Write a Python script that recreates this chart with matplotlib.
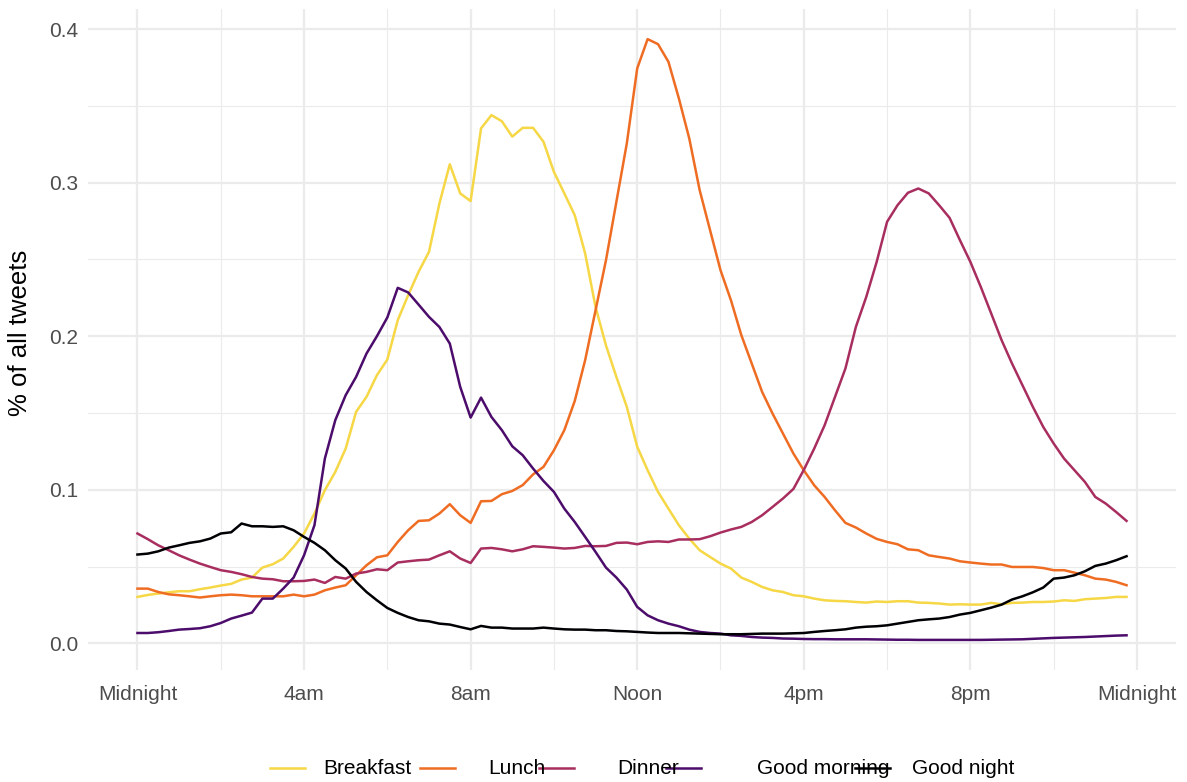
import numpy as np
import matplotlib
matplotlib.use("Agg")
import matplotlib.pyplot as plt
from matplotlib import cm
from matplotlib.lines import Line2D

# time of day in hours (15-minute bins)
hours = np.arange(96) / 4

breakfast = [0.0302, 0.0315, 0.0324, 0.0332, 0.0339, 0.0339, 0.0352, 0.0363, 0.0376, 0.0387,
             0.0415, 0.0428, 0.0493, 0.0515, 0.0552, 0.0628, 0.0715, 0.0845, 0.0997, 0.1116,
             0.1268, 0.1507, 0.1605, 0.1746, 0.1848, 0.2104, 0.2267, 0.2419, 0.2549, 0.2864,
             0.3120, 0.2930, 0.2880, 0.3353, 0.3440, 0.3400, 0.3300, 0.3357, 0.3357, 0.3266,
             0.3070, 0.2930, 0.2788, 0.2539, 0.2190, 0.1940, 0.1735, 0.1540, 0.1280, 0.1127,
             0.0986, 0.0877, 0.0769, 0.0682, 0.0606, 0.0562, 0.0519, 0.0487, 0.0428, 0.0400,
             0.0367, 0.0345, 0.0334, 0.0313, 0.0306, 0.0291, 0.0280, 0.0276, 0.0274, 0.0269,
             0.0265, 0.0272, 0.0269, 0.0274, 0.0274, 0.0265, 0.0263, 0.0259, 0.0252, 0.0254,
             0.0252, 0.0252, 0.0263, 0.0254, 0.0263, 0.0265, 0.0269, 0.0269, 0.0272, 0.0280,
             0.0276, 0.0287, 0.0291, 0.0295, 0.0302, 0.0302]

lunch = [0.0356, 0.0356, 0.0334, 0.0319, 0.0313, 0.0306, 0.0298, 0.0306, 0.0313, 0.0317,
         0.0313, 0.0306, 0.0306, 0.0306, 0.0306, 0.0317, 0.0306, 0.0317, 0.0345, 0.0363,
         0.0378, 0.0443, 0.0508, 0.0560, 0.0573, 0.0660, 0.0736, 0.0797, 0.0801, 0.0845,
         0.0906, 0.0834, 0.0784, 0.0925, 0.0927, 0.0971, 0.0992, 0.1030, 0.1100, 0.1149,
         0.1257, 0.1388, 0.1578, 0.1844, 0.2169, 0.2495, 0.2875, 0.3255, 0.3744, 0.3935,
         0.3902, 0.3787, 0.3549, 0.3288, 0.2951, 0.2690, 0.2430, 0.2235, 0.2007, 0.1822,
         0.1637, 0.1496, 0.1366, 0.1236, 0.1127, 0.1029, 0.0953, 0.0866, 0.0784, 0.0754,
         0.0715, 0.0680, 0.0660, 0.0645, 0.0612, 0.0606, 0.0573, 0.0562, 0.0552, 0.0534,
         0.0526, 0.0519, 0.0513, 0.0513, 0.0497, 0.0497, 0.0497, 0.0490, 0.0476, 0.0476,
         0.0460, 0.0443, 0.0421, 0.0415, 0.0400, 0.0378]

dinner = [0.0715, 0.0678, 0.0638, 0.0606, 0.0573, 0.0545, 0.0519, 0.0497, 0.0476, 0.0465,
          0.0450, 0.0432, 0.0421, 0.0417, 0.0404, 0.0404, 0.0406, 0.0415, 0.0393, 0.0432,
          0.0421, 0.0454, 0.0465, 0.0482, 0.0476, 0.0526, 0.0534, 0.0541, 0.0545, 0.0573,
          0.0599, 0.0552, 0.0523, 0.0617, 0.0621, 0.0612, 0.0599, 0.0612, 0.0632, 0.0628,
          0.0623, 0.0617, 0.0621, 0.0634, 0.0632, 0.0634, 0.0654, 0.0656, 0.0645, 0.0660,
          0.0664, 0.0660, 0.0676, 0.0676, 0.0678, 0.0697, 0.0721, 0.0741, 0.0758, 0.0790,
          0.0834, 0.0888, 0.0943, 0.1005, 0.1129, 0.1268, 0.1420, 0.1605, 0.1790, 0.2060,
          0.2256, 0.2484, 0.2745, 0.2853, 0.2934, 0.2962, 0.2930, 0.2853, 0.2771, 0.2625,
          0.2484, 0.2321, 0.2148, 0.1974, 0.1822, 0.1681, 0.1540, 0.1409, 0.1301, 0.1203,
          0.1127, 0.1051, 0.0953, 0.0910, 0.0855, 0.0797]

good_morning = [0.0067, 0.0067, 0.0072, 0.0080, 0.0089, 0.0093, 0.0098, 0.0111, 0.0132, 0.0161,
                0.0180, 0.0200, 0.0291, 0.0291, 0.0356, 0.0428, 0.0573, 0.0769, 0.1203, 0.1453,
                0.1616, 0.1735, 0.1887, 0.2000, 0.2122, 0.2315, 0.2285, 0.2206, 0.2126, 0.2060,
                0.1952, 0.1670, 0.1470, 0.1600, 0.1474, 0.1388, 0.1283, 0.1225, 0.1138, 0.1057,
                0.0986, 0.0877, 0.0790, 0.0693, 0.0595, 0.0493, 0.0428, 0.0350, 0.0237, 0.0182,
                0.0150, 0.0128, 0.0111, 0.0089, 0.0074, 0.0067, 0.0063, 0.0052, 0.0048, 0.0041,
                0.0037, 0.0035, 0.0031, 0.0030, 0.0028, 0.0027, 0.0027, 0.0026, 0.0026, 0.0026,
                0.0026, 0.0025, 0.0024, 0.0023, 0.0023, 0.0022, 0.0022, 0.0022, 0.0022, 0.0022,
                0.0022, 0.0022, 0.0023, 0.0024, 0.0025, 0.0026, 0.0029, 0.0032, 0.0035, 0.0037,
                0.0039, 0.0041, 0.0044, 0.0047, 0.0050, 0.0052]

good_night = [0.0578, 0.0584, 0.0599, 0.0623, 0.0638, 0.0654, 0.0664, 0.0682, 0.0715, 0.0723,
              0.0780, 0.0762, 0.0762, 0.0758, 0.0762, 0.0736, 0.0693, 0.0654, 0.0606, 0.0541,
              0.0487, 0.0400, 0.0334, 0.0280, 0.0230, 0.0198, 0.0171, 0.0150, 0.0143, 0.0128,
              0.0122, 0.0106, 0.0091, 0.0113, 0.0102, 0.0102, 0.0096, 0.0096, 0.0096, 0.0102,
              0.0096, 0.0091, 0.0089, 0.0089, 0.0085, 0.0085, 0.0080, 0.0078, 0.0074, 0.0070,
              0.0067, 0.0067, 0.0067, 0.0065, 0.0063, 0.0061, 0.0059, 0.0059, 0.0059, 0.0061,
              0.0063, 0.0063, 0.0063, 0.0065, 0.0067, 0.0074, 0.0080, 0.0085, 0.0091, 0.0102,
              0.0108, 0.0111, 0.0117, 0.0128, 0.0139, 0.0150, 0.0156, 0.0161, 0.0171, 0.0187,
              0.0198, 0.0215, 0.0232, 0.0252, 0.0285, 0.0306, 0.0332, 0.0363, 0.0421, 0.0428,
              0.0443, 0.0469, 0.0504, 0.0519, 0.0541, 0.0567]

series_names = ["Breakfast", "Lunch", "Dinner", "Good morning", "Good night"]
series_values = [breakfast, lunch, dinner, good_morning, good_night]

x_ticks = [0, 4, 8, 12, 16, 20, 24]
x_labels = ["Midnight", "4am", "8am", "Noon", "4pm", "8pm", "Midnight"]
x_minor = [2, 6, 10, 14, 18, 22]
y_ticks = [0.0, 0.1, 0.2, 0.3, 0.4]
y_labels = ["0.0", "0.1", "0.2", "0.3", "0.4"]
y_minor = [0.05, 0.15, 0.25, 0.35]

plt.rcParams['font.family'] = ['Liberation Sans', 'DejaVu Sans']

W, H = 1187, 782
fig = plt.figure(figsize=(W / 100, H / 100), dpi=100)
ax = fig.add_axes([88 / W, 112 / H, 1088 / W, 661 / H])

colors = [cm.inferno(v) for v in (0.9, 0.675, 0.45, 0.225, 0.0)]

for name, vals, col in zip(series_names, series_values, colors):
    ax.plot(hours, vals, color=col, lw=1.8, solid_joinstyle='round', zorder=3)

ax.set_xlim(-1.1875, 24.9375)
ax.set_ylim(-0.0174, 0.4131)
ax.set_xticks(x_ticks)
ax.set_xticklabels(x_labels)
ax.set_xticks(x_minor, minor=True)
ax.set_yticks(y_ticks)
ax.set_yticklabels(y_labels)
ax.set_yticks(y_minor, minor=True)

ax.grid(which='major', color='#EBEBEB', lw=1.6, zorder=0)
ax.grid(which='minor', color='#EBEBEB', lw=0.8, zorder=0)
ax.set_axisbelow(True)
for s in ax.spines.values():
    s.set_visible(False)
ax.tick_params(which='both', length=0)
ax.tick_params(axis='x', labelsize=15, labelcolor='#4D4D4D', pad=11)
ax.tick_params(axis='y', labelsize=15, labelcolor='#4D4D4D', pad=7)
ax.set_ylabel("% of all tweets", fontsize=18.5, color='black')
ax.yaxis.set_label_coords(-0.0515, 0.51)

# legend, placed as in the reference (keys and labels at bottom)
key_left = [270, 420, 539, 666, 855]
text_left = [323, 488, 617, 757, 912]
ly = 768
for name, col, kx, tx in zip(series_names, colors, key_left, text_left):
    fig.add_artist(Line2D([kx / W, (kx + 35) / W], [(H - ly) / H, (H - ly) / H],
                          color=col, lw=1.8, transform=fig.transFigure))
    fig.text(tx / W, (H - ly) / H, name, fontsize=15, color='black',
             ha='left', va='center')

fig.savefig("out.png", dpi=100)
